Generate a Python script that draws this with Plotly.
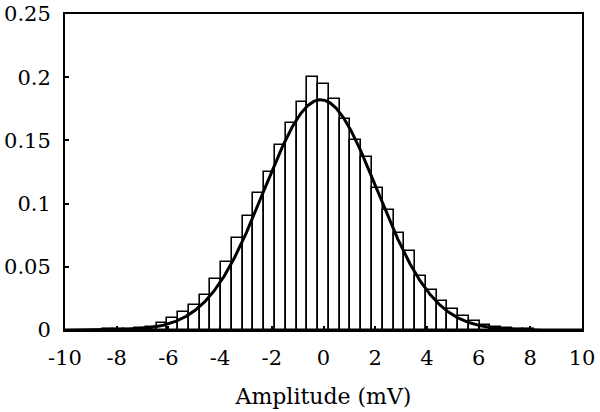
import numpy as np
import plotly.graph_objects as go

# Histogram of amplitudes (bin width 5/12 mV), relative frequency per bin
bin_width = 5 / 12
bin_centers = [-8.333, -7.917, -7.5, -7.083, -6.667, -6.25, -5.833, -5.417, -5.0,
               -4.583, -4.167, -3.75, -3.333, -2.917, -2.5, -2.083, -1.667, -1.25,
               -0.833, -0.417, 0.0, 0.417, 0.833, 1.25, 1.667, 2.083, 2.5, 2.917,
               3.333, 3.75, 4.167, 4.583, 5.0, 5.417, 5.833, 6.25, 6.667, 7.083,
               7.5, 7.917]
frequencies = [0.0005, 0.0007, 0.001, 0.0015, 0.0026, 0.0055, 0.0092, 0.0145, 0.0198,
               0.0277, 0.0403, 0.054, 0.0725, 0.090, 0.108, 0.1252, 0.1464, 0.164,
               0.1806, 0.2004, 0.1946, 0.1825, 0.1667, 0.150, 0.1365, 0.112, 0.0949,
               0.0765, 0.0628, 0.043, 0.0316, 0.0232, 0.0164, 0.0108, 0.0074, 0.004,
               0.0026, 0.0015, 0.001, 0.0005]

# Fitted normal distribution parameters (mV)
fit_mean = -0.11
fit_sigma = 2.19

x_ticks = [-10, -8, -6, -4, -2, 0, 2, 4, 6, 8, 10]
y_ticks = [0, 0.05, 0.1, 0.15, 0.2, 0.25]
y_tick_text = ["0", "0.05", "0.1", "0.15", "0.2", "0.25"]

xs = np.linspace(-10, 10, 801)
pdf = np.exp(-0.5 * ((xs - fit_mean) / fit_sigma) ** 2) / (fit_sigma * np.sqrt(2 * np.pi))

FONT = "DejaVu Serif"

fig = go.Figure()
fig.add_trace(go.Bar(
    x=bin_centers, y=frequencies, width=bin_width,
    marker=dict(color="white", line=dict(color="black", width=1.6)),
    hoverinfo="x+y",
))
fig.add_trace(go.Scatter(
    x=xs, y=pdf, mode="lines",
    line=dict(color="black", width=3),
))

fig.update_layout(
    width=600, height=412,
    margin=dict(l=65, r=18, t=14, b=82),
    paper_bgcolor="white", plot_bgcolor="white",
    showlegend=False, bargap=0,
    font=dict(family=FONT, color="black", size=21),
)
fig.update_xaxes(
    range=[-10, 10], tickvals=x_ticks, ticktext=[str(v) for v in x_ticks],
    ticks="inside", ticklen=4, tickwidth=1.5, tickcolor="black",
    showline=True, linecolor="black", linewidth=2, mirror=True,
    showgrid=False, zeroline=False, automargin=False,
    tickfont=dict(family=FONT, size=21), ticklabelstandoff=8,
    title=dict(text="Amplitude (mV)", font=dict(family=FONT, size=22), standoff=19),
)
fig.update_yaxes(
    range=[0, 0.25], tickvals=y_ticks, ticktext=y_tick_text,
    ticks="inside", ticklen=4, tickwidth=1.5, tickcolor="black",
    showline=True, linecolor="black", linewidth=2, mirror=True,
    showgrid=False, zeroline=False, automargin=False,
    tickfont=dict(family=FONT, size=21), ticklabelstandoff=8,
)

fig.write_html("out.html")
